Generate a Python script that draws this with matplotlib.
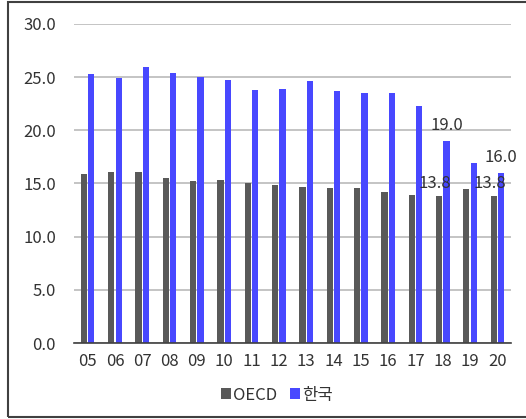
import numpy as np
import matplotlib.pyplot as plt
from matplotlib.patches import Rectangle

plt.rcParams['font.family'] = ['Noto Sans CJK KR', 'DejaVu Sans']
plt.rcParams['font.weight'] = 'light'

years = ["05", "06", "07", "08", "09", "10", "11", "12",
         "13", "14", "15", "16", "17", "18", "19", "20"]
oecd = [15.9, 16.1, 16.1, 15.5, 15.2, 15.3, 15.0, 14.9,
        14.7, 14.6, 14.6, 14.2, 13.9, 13.8, 14.5, 13.8]
korea = [25.3, 24.9, 26.0, 25.4, 25.0, 24.7, 23.8, 23.9,
         24.6, 23.7, 23.5, 23.5, 22.3, 19.0, 16.9, 16.0]
yticks = [0, 5, 10, 15, 20, 25, 30]

c_oecd = '#595959'
c_kor = '#4848ff'
txt = '#333333'

fig = plt.figure(figsize=(5.26, 4.19), dpi=100)
ax = fig.add_axes([74/526, 1-343/419, 437/526, 319/419])

x = np.arange(len(years))
w = 0.23
ax.bar(x - 0.135, oecd, w, color=c_oecd, label='OECD', zorder=3)
ax.bar(x + 0.135, korea, w, color=c_kor, label='한국', zorder=3)

# value labels on the last years only
for i in [13, 15]:
    ax.annotate("{:.1f}".format(oecd[i]), (x[i] - 0.135, oecd[i]),
                xytext=(-3, 3), textcoords='offset points', ha='center',
                va='bottom', fontsize=12, color=txt, zorder=4)
    ax.annotate("{:.1f}".format(korea[i]), (x[i] + 0.135, korea[i]),
                xytext=(0, 5), textcoords='offset points', ha='center',
                va='bottom', fontsize=12, color=txt, zorder=4)

ax.set_xlim(-0.5, len(years) - 0.5)
ax.set_ylim(0, 30)
ax.set_yticks(yticks)
ax.set_yticklabels(["{:.1f}".format(v) for v in yticks])
ax.set_xticks(x)
ax.set_xticklabels(years)
ax.tick_params(axis='y', length=0, pad=13, labelsize=12, labelcolor=txt)
ax.tick_params(axis='x', length=0, pad=7, labelsize=12, labelcolor=txt)

ax.grid(axis='y', color='#bfbfbf', linewidth=1.3, zorder=0)
ax.set_axisbelow(True)
for s in ['top', 'right', 'left']:
    ax.spines[s].set_visible(False)
ax.spines['bottom'].set_color('#404040')
ax.spines['bottom'].set_linewidth(1.2)
ax.spines['bottom'].set_zorder(4)

leg = fig.legend(loc='center', bbox_to_anchor=(277/526, 1-395/419), ncol=2,
                 frameon=False, fontsize=12, handlelength=0.6,
                 handleheight=0.6, handletextpad=0.1, columnspacing=0.8)
for t in leg.get_texts():
    t.set_color(txt)

fig.patches.append(Rectangle((8/526, 1-417/419), 1.0, 415/419,
                             transform=fig.transFigure, fill=False,
                             edgecolor='#404040', linewidth=1.5))

fig.savefig("out.png", dpi=100)
